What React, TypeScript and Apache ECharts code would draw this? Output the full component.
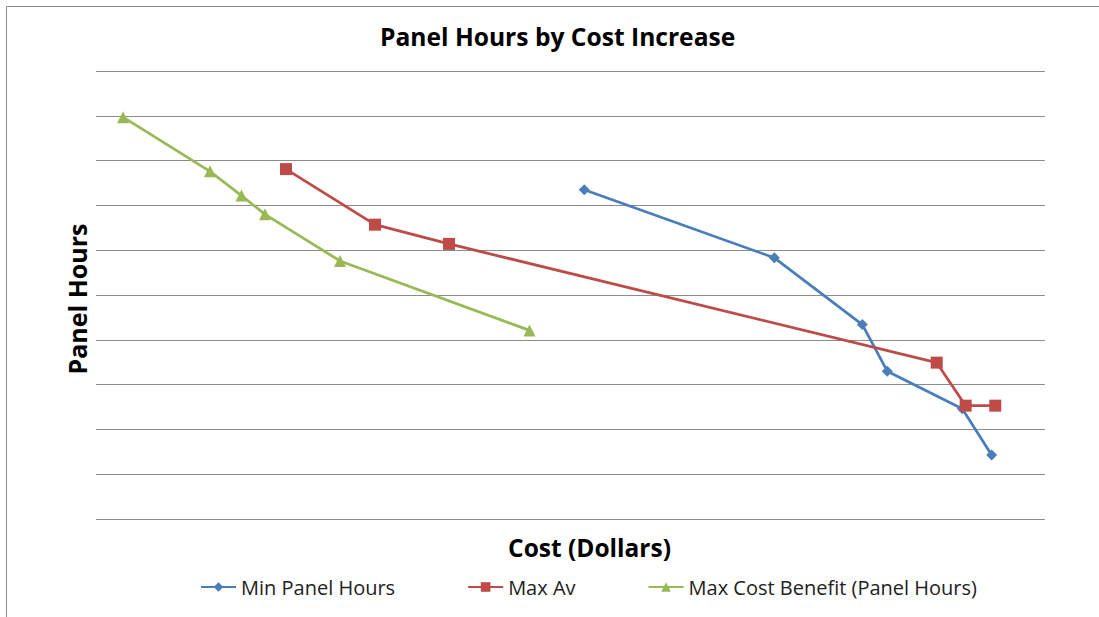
import React, { useEffect, useRef } from "react";
import * as echarts from "echarts";

const minPanelX = [51.45, 71.48, 80.75, 83.38, 91.28, 94.38];
const minPanelY = [7.35, 5.83, 4.34, 3.30, 2.46, 1.43];
const maxAvX = [20.02, 29.40, 37.20, 88.59, 91.64, 94.76];
const maxAvY = [7.81, 6.57, 6.14, 3.49, 2.53, 2.53];
const maxCbX = [2.85, 12.01, 15.33, 17.81, 25.71, 45.68];
const maxCbY = [8.97, 7.76, 7.22, 6.80, 5.76, 4.21];

const seriesNames = ["Min Panel Hours", "Max Av", "Max Cost Benefit (Panel Hours)"];
const colors = ["#4A7EBB", "#BE4B48", "#98B954"];
const FONT = "Open Sans";

const zip = (xs: number[], ys: number[]) => xs.map((x, i) => [x, ys[i]]);

export default function App() {
  const ref = useRef<HTMLDivElement>(null);
  useEffect(() => {
    if (!ref.current) return;
    const chart = echarts.init(ref.current, null, { renderer: "svg" });
    const symbols = ["diamond", "rect", "triangle"];
    const sizes = [11, 12, 12];
    const datas = [zip(minPanelX, minPanelY), zip(maxAvX, maxAvY), zip(maxCbX, maxCbY)];
    chart.setOption({
      animation: false,
      backgroundColor: "#ffffff",
      title: {
        text: "Panel Hours by Cost Increase",
        left: 375,
        top: 19,
        textStyle: { fontFamily: FONT, fontWeight: "bold", fontSize: 24.6, color: "#000" },
      },
      legend: {
        left: 195,
        top: 572,
        itemWidth: 35,
        itemHeight: 12,
        itemGap: 72,
        textStyle: { fontFamily: FONT, fontSize: 20, color: "#222" },
        data: seriesNames,
      },
      graphic: [
        {
          type: "rect",
          shape: { x: 6.5, y: 6.5, width: 1200, height: 700 },
          style: { fill: "none", stroke: "#8a8a8a", lineWidth: 1 },
          silent: true,
        },
      ],
      grid: { left: 96, right: 54, top: 71, bottom: 98 },
      xAxis: {
        type: "value",
        min: 0,
        max: 100,
        name: "Cost (Dollars)",
        nameLocation: "middle",
        nameGap: 16,
        nameTextStyle: {
          fontFamily: FONT,
          fontWeight: "bold",
          fontSize: 24.5,
          color: "#000",
          padding: [0, 0, 0, 38],
        },
        axisLine: { show: false },
        axisTick: { show: false },
        axisLabel: { show: false },
        splitLine: { show: false },
      },
      yAxis: {
        type: "value",
        min: 0,
        max: 10,
        interval: 1,
        name: "Panel Hours",
        nameLocation: "middle",
        nameGap: 7,
        nameRotate: 90,
        nameTextStyle: {
          fontFamily: FONT,
          fontWeight: "bold",
          fontSize: 25,
          color: "#000",
          padding: [0, 8, 0, 0],
        },
        axisLine: { show: false },
        axisTick: { show: false },
        axisLabel: { show: false },
        splitLine: { show: true, lineStyle: { color: "#8c8c8c", width: 1 } },
      },
      series: seriesNames.map((name, i) => ({
        name,
        type: "line",
        data: datas[i],
        symbol: symbols[i],
        symbolSize: sizes[i],
        color: colors[i],
        lineStyle: { width: 2.75, color: colors[i] },
        itemStyle: { color: colors[i] },
      })),
    });
    return () => chart.dispose();
  }, []);
  return (
    <div
      ref={ref}
      style={{ position: "fixed", left: 0, top: 0, width: 1099, height: 617, background: "#fff" }}
    />
  );
}
